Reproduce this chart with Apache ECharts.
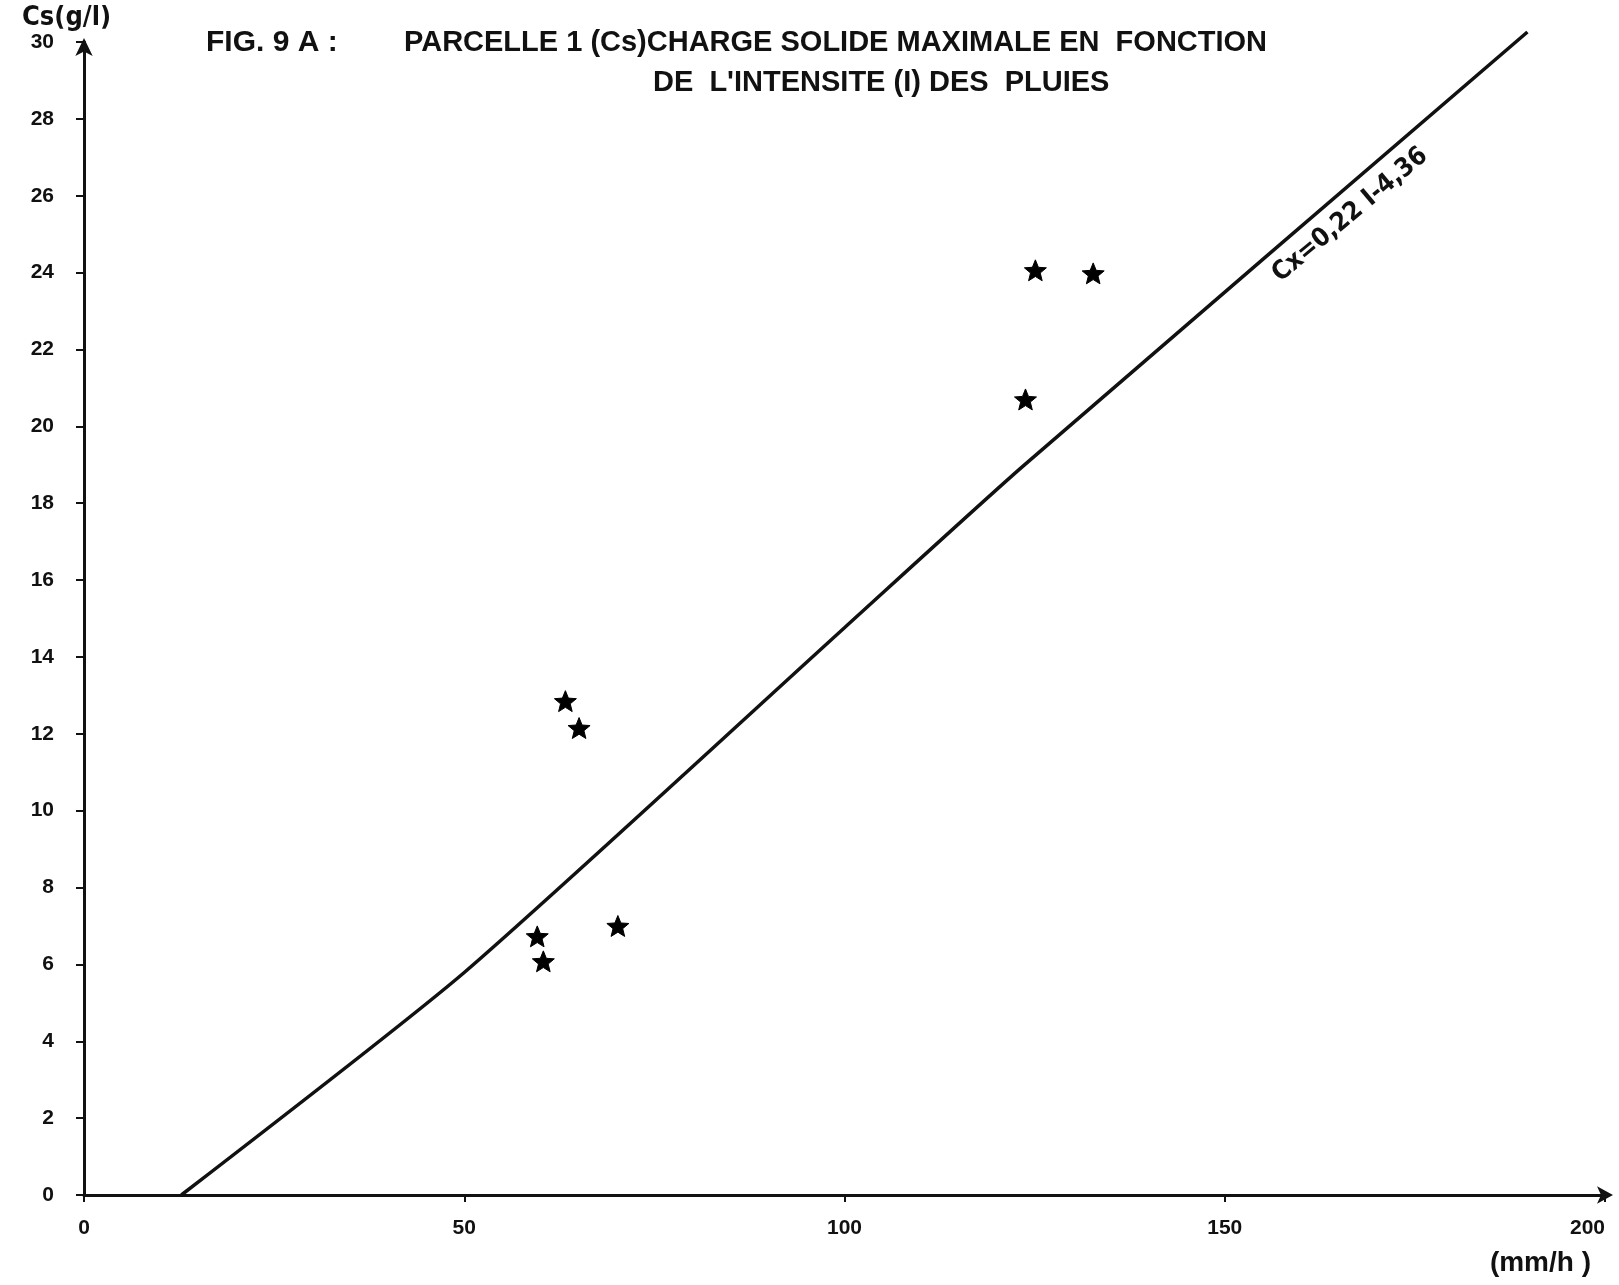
<!DOCTYPE html>
<html>
<head>
<meta charset="utf-8">
<script src="https://cdn.jsdelivr.net/npm/echarts@6/dist/echarts.min.js"></script>
<style>
html,body{margin:0;padding:0;background:#fff;}
#chart{width:1619px;height:1285px;}
</style>
</head>
<body>
<div id="chart"></div>
<script>
// ---- data ----
const xTicks = [0, 50, 100, 150, 200];
const yTicks = [0, 2, 4, 6, 8, 10, 12, 14, 16, 18, 20, 22, 24, 26, 28, 30];
const intensity = [63.3, 65.1, 59.6, 60.4, 70.2, 125.1, 132.7, 123.8];   // I (mm/h)
const charge    = [12.85, 12.15, 6.73, 6.08, 7.0, 24.06, 23.98, 20.70];  // Cs (g/l)
const lineI  = [12.8, 50, 100, 123.4, 189.8];
const lineCs = [0, 5.79, 14.76, 18.95, 30.26];
const equationLabel = 'Cx=0,22 I-4,36';
const equationAt = [166.5, 25.5];
const titleFig = 'FIG. 9 A :';
const titleLine1 = 'PARCELLE 1 (Cs)CHARGE SOLIDE MAXIMALE EN  FONCTION';
const titleLine2 = "DE  L'INTENSITE (I) DES  PLUIES";
const yName = 'Cs(g/l)';
const xName = '(mm/h )';

const FONT = '"DejaVu Sans Condensed", "Liberation Sans", sans-serif';
const LFONT = '"Liberation Sans", Arial, sans-serif';
const STAR = 'path://M50,0 L62.93,32.2 L97.55,34.55 L70.92,56.8 L79.39,90.45 L50,72 L20.61,90.45 L29.08,56.8 L2.45,34.55 L37.07,32.2 Z';

const chart = echarts.init(document.getElementById('chart'), null, {renderer: 'canvas'});

const axisCommonX = {
  type: 'value', min: xTicks[0], max: xTicks[xTicks.length - 1], interval: 50,
  splitLine: {show: false}
};
const axisCommonY = {
  type: 'value', min: yTicks[0], max: yTicks[yTicks.length - 1], interval: 2,
  splitLine: {show: false}
};

const titleStyle = {fontFamily: LFONT, fontWeight: 'bold', fontSize: 29, color: '#111'};

const option = {
  backgroundColor: '#ffffff',
  animation: false,
  title: [
    {text: titleFig, left: 201, top: 23, textStyle: Object.assign({}, titleStyle, {fontSize: 30})},
    {text: titleLine1, left: 399, top: 23, textStyle: titleStyle},
    {text: titleLine2, left: 648, top: 63, textStyle: titleStyle}
  ],
  grid: {left: 84, right: 14, top: 42, bottom: 90, containLabel: false},
  xAxis: [
    Object.assign({}, axisCommonX, {
      name: xName, nameLocation: 'end', nameGap: 0,
      nameTextStyle: {fontFamily: LFONT, fontWeight: 'bold', fontSize: 28, color: '#111', align: 'right', verticalAlign: 'top', padding: [54, 14, 0, 0]},
      axisLine: {show: true, lineStyle: {color: '#111', width: 3}, symbol: ['none', 'arrow'], symbolSize: [13, 16], symbolOffset: [0, 8]},
      axisTick: {show: true, length: 7, lineStyle: {color: '#111', width: 2}},
      axisLabel: {show: true, margin: 23, fontFamily: LFONT, fontWeight: 'bold', fontSize: 21, color: '#111', alignMaxLabel: 'right'}
    }),
    Object.assign({}, axisCommonX, {
      axisLine: {show: false}, axisLabel: {show: false},
      axisTick: {show: true, inside: true, length: 7, lineStyle: {color: '#111', width: 2}}
    })
  ],
  yAxis: [
    Object.assign({}, axisCommonY, {
      name: yName, nameLocation: 'end', nameGap: 0,
      nameTextStyle: {fontFamily: FONT, fontWeight: 'bold', fontSize: 27, color: '#111', align: 'left', verticalAlign: 'bottom', padding: [0, 0, 8, -62]},
      axisLine: {show: true, lineStyle: {color: '#111', width: 3}, symbol: ['none', 'arrow'], symbolSize: [13, 18], symbolOffset: [0, 4]},
      axisTick: {show: true, length: 8, lineStyle: {color: '#111', width: 2}},
      axisLabel: {show: true, margin: 30, fontFamily: LFONT, fontWeight: 'bold', fontSize: 21, color: '#111',
        formatter: v => (yTicks.indexOf(v) >= 0 ? String(v) : '')}
    }),
    Object.assign({}, axisCommonY, {
      axisLine: {show: false}, axisLabel: {show: false},
      axisTick: {show: true, inside: true, length: 8, lineStyle: {color: '#111', width: 2}}
    })
  ],
  series: [
    {
      type: 'line', xAxisIndex: 0, yAxisIndex: 0,
      data: lineI.map((v, i) => [v, lineCs[i]]),
      showSymbol: false, symbol: 'none', clip: false, smooth: 0.2,
      lineStyle: {color: '#111', width: 3.5},
      markPoint: {
        symbol: 'circle', symbolSize: 0,
        label: {show: true, formatter: equationLabel, rotate: 40, fontFamily: FONT, fontWeight: 'bold', fontSize: 26, color: '#111', position: 'inside'},
        data: [{coord: equationAt}]
      }
    },
    {
      type: 'scatter', xAxisIndex: 0, yAxisIndex: 0,
      data: intensity.map((v, i) => [v, charge[i]]),
      symbol: STAR, symbolSize: 22, symbolKeepAspect: true,
      itemStyle: {color: '#000', opacity: 1, borderColor: '#000', borderWidth: 1}
    }
  ]
};
chart.setOption(option);
</script>
</body>
</html>
